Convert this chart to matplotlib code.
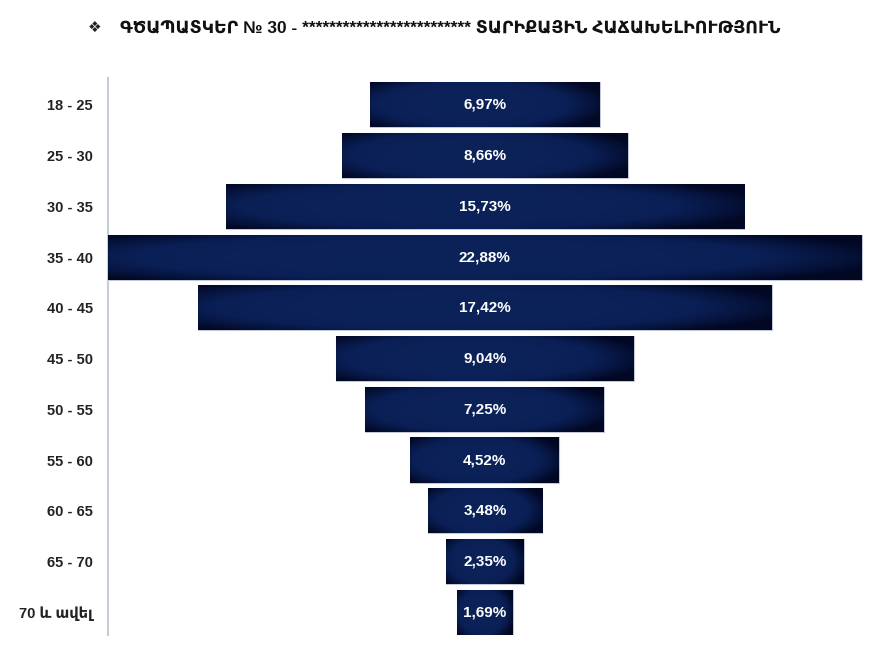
import numpy as np
import matplotlib.pyplot as plt
from matplotlib.colors import LinearSegmentedColormap

plt.rcParams['font.family'] = ['Liberation Sans', 'DejaVu Sans']

# --data--
groups = ["18 - 25", "25 - 30", "30 - 35", "35 - 40", "40 - 45", "45 - 50",
          "50 - 55", "55 - 60", "60 - 65", "65 - 70", "70 և ավել"]
shares = [6.97, 8.66, 15.73, 22.88, 17.42, 9.04, 7.25, 4.52, 3.48, 2.35, 1.69]
title = "ԳԾԱՊԱՏԿԵՐ № 30 - ************************* ՏԱՐԻՔԱՅԻՆ ՀԱՃԱԽԵԼԻՈՒԹՅՈՒՆ"

fig = plt.figure(figsize=(8.75, 6.5), dpi=100)
ax = fig.add_axes([0.1234, 0.023, 0.8766, 0.857])

y = np.arange(len(groups))
vals = np.array(shares)
left = -vals / 2
bars = ax.barh(y, vals, left=left, height=0.89, color="#07164a",
               edgecolor="#c3c9d6", linewidth=0.8, zorder=2)

# dark navy gradient inside each bar
cmap = LinearSegmentedColormap.from_list("navy", ["#020824", "#0a1f55", "#0c2359"])
gx = np.linspace(-1, 1, 200)
gy = np.linspace(-1, 1, 40)
X, Y = np.meshgrid(gx, gy)
grad = 1 - np.clip(0.7 * np.abs(X + 0.1) ** 2 + 0.5 * np.abs(Y) ** 2, 0, 1)
for b in bars:
    x0, y0 = b.get_x(), b.get_y()
    w, h = b.get_width(), b.get_height()
    im = ax.imshow(grad, cmap=cmap, aspect="auto", extent=(x0, x0 + w, y0 + h, y0),
                   zorder=3, interpolation="bilinear")
    im.set_clip_path(b)

for yi, v in zip(y, shares):
    ax.text(0, yi, f"{v:.2f}%".replace(".", ","), color="white", ha="center",
            va="center", fontsize=11, fontweight="bold", zorder=4)

ax.set_xlim(-vals.max() / 2, 11.84)
ax.set_ylim(len(groups) - 0.55, -0.53)
ax.set_yticks(y)
ax.set_yticklabels(groups, fontsize=10.5, fontweight="bold", color="#222222")
ax.set_xticks([])
ax.tick_params(axis="y", length=0, pad=11)
for s in ["top", "right", "bottom"]:
    ax.spines[s].set_visible(False)
ax.spines["left"].set_color("#c8ccd4")
ax.spines["left"].set_linewidth(1.5)

fig.text(0.108, 0.958, "❖", fontsize=11, color="#222222", ha="center", va="center",
         family=["DejaVu Sans"])
fig.text(0.137, 0.958, title, fontsize=12.5, fontweight="bold", color="#111111",
         ha="left", va="center")

fig.savefig("out.png", dpi=100)
